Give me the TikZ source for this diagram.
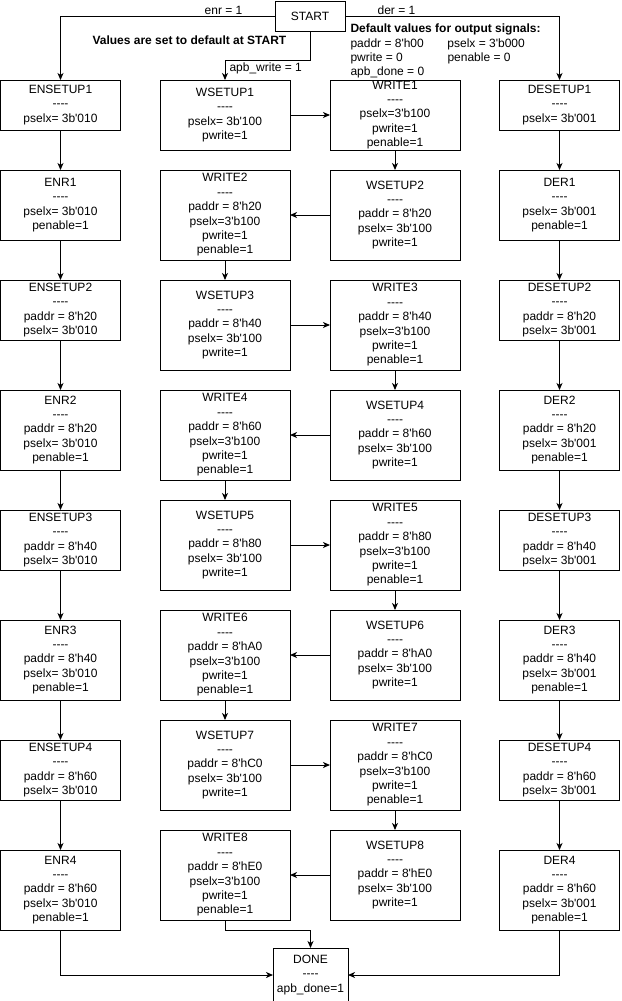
\documentclass[tikz,border=0pt]{standalone}
\usepackage{fontspec}
\setmainfont{Liberation Sans}[Ligatures=TeXOff]
\usepackage{tikz}
\usetikzlibrary{positioning, arrows.meta, calc}

\begin{document}
\begin{tikzpicture}[x=1pt, y=-1pt, line width=1pt,
    every node/.style={font=\fontsize{12}{14.4}\selectfont, inner sep=0pt},
    state/.style={draw, outer sep=0pt, align=center, minimum width=120pt},
    wstate/.style={state, minimum width=130pt},
    flow/.style={-{Stealth[length=7pt, width=6pt, inset=2pt]}},
    node distance=40pt]
    \useasboundingbox (0,0) rectangle (621,1001);

    \node[draw, outer sep=0pt, minimum width=70pt, minimum height=30pt] (start) at (310,16) {START};
    \node[anchor=west, font=\fontsize{12}{14.4}\selectfont\bfseries] (resetnote) at (92,40) {Values are set to default at START};
    \node[anchor=north west, align=left] (defaults) at (350,23.5)
      {\textbf{Default values for output signals:}\\\makebox[97pt][l]{paddr = 8'h00}pselx = 3'b000\\\makebox[97pt][l]{pwrite = 0}penable = 0\\apb\_done = 0};

    \node[state, minimum height=50pt, anchor=north west] (ensetup1) at (0.5,80) {ENSETUP1\\----\\pselx= 3b'010};
    \node[state, minimum height=70pt, below=of ensetup1] (enr1) {ENR1\\----\\pselx= 3b'010\\penable=1};
    \node[state, minimum height=60pt, below=of enr1] (ensetup2) {ENSETUP2\\----\\paddr = 8'h20\\pselx= 3b'010};
    \node[state, minimum height=80pt, below=50pt of ensetup2] (enr2) {ENR2\\----\\paddr = 8'h20\\pselx= 3b'010\\penable=1};
    \node[state, minimum height=60pt, below=of enr2] (ensetup3) {ENSETUP3\\----\\paddr = 8'h40\\pselx= 3b'010};
    \node[state, minimum height=80pt, below=50pt of ensetup3] (enr3) {ENR3\\----\\paddr = 8'h40\\pselx= 3b'010\\penable=1};
    \node[state, minimum height=60pt, below=of enr3] (ensetup4) {ENSETUP4\\----\\paddr = 8'h60\\pselx= 3b'010};
    \node[state, minimum height=80pt, below=50pt of ensetup4] (enr4) {ENR4\\----\\paddr = 8'h60\\pselx= 3b'010\\penable=1};

    \node[state, minimum height=50pt, right=379pt of ensetup1] (desetup1) {DESETUP1\\----\\pselx= 3b'001};
    \node[state, minimum height=70pt, below=of desetup1] (der1) {DER1\\----\\pselx= 3b'001\\penable=1};
    \node[state, minimum height=60pt, below=of der1] (desetup2) {DESETUP2\\----\\paddr = 8'h20\\pselx= 3b'001};
    \node[state, minimum height=80pt, below=50pt of desetup2] (der2) {DER2\\----\\paddr = 8'h20\\pselx= 3b'001\\penable=1};
    \node[state, minimum height=60pt, below=of der2] (desetup3) {DESETUP3\\----\\paddr = 8'h40\\pselx= 3b'001};
    \node[state, minimum height=80pt, below=50pt of desetup3] (der3) {DER3\\----\\paddr = 8'h40\\pselx= 3b'001\\penable=1};
    \node[state, minimum height=60pt, below=of der3] (desetup4) {DESETUP4\\----\\paddr = 8'h60\\pselx= 3b'001};
    \node[state, minimum height=80pt, below=50pt of desetup4] (der4) {DER4\\----\\paddr = 8'h60\\pselx= 3b'001\\penable=1};

    \node[wstate, minimum height=70pt, anchor=north west] (wsetup1) at (160,80) {WSETUP1\\----\\pselx= 3b'100\\pwrite=1};
    \node[wstate, minimum height=70pt, right=of wsetup1] (write1) {WRITE1\\----\\pselx=3'b100\\pwrite=1\\penable=1};
    \node[wstate, minimum height=90pt, below=20pt of wsetup1] (write2) {WRITE2\\----\\paddr = 8'h20\\pselx=3'b100\\pwrite=1\\penable=1};
    \node[wstate, minimum height=90pt, below=20pt of write1] (wsetup2) {WSETUP2\\----\\paddr = 8'h20\\pselx= 3b'100\\pwrite=1};
    \node[wstate, minimum height=90pt, below=20pt of write2] (wsetup3) {WSETUP3\\----\\paddr = 8'h40\\pselx= 3b'100\\pwrite=1};
    \node[wstate, minimum height=90pt, below=20pt of wsetup2] (write3) {WRITE3\\----\\paddr = 8'h40\\pselx=3'b100\\pwrite=1\\penable=1};
    \node[wstate, minimum height=90pt, below=20pt of wsetup3] (write4) {WRITE4\\----\\paddr = 8'h60\\pselx=3'b100\\pwrite=1\\penable=1};
    \node[wstate, minimum height=90pt, below=20pt of write3] (wsetup4) {WSETUP4\\----\\paddr = 8'h60\\pselx= 3b'100\\pwrite=1};
    \node[wstate, minimum height=90pt, below=20pt of write4] (wsetup5) {WSETUP5\\----\\paddr = 8'h80\\pselx= 3b'100\\pwrite=1};
    \node[wstate, minimum height=90pt, below=20pt of wsetup4] (write5) {WRITE5\\----\\paddr = 8'h80\\pselx=3'b100\\pwrite=1\\penable=1};
    \node[wstate, minimum height=90pt, below=20pt of wsetup5] (write6) {WRITE6\\----\\paddr = 8'hA0\\pselx=3'b100\\pwrite=1\\penable=1};
    \node[wstate, minimum height=90pt, below=20pt of write5] (wsetup6) {WSETUP6\\----\\paddr = 8'hA0\\pselx= 3b'100\\pwrite=1};
    \node[wstate, minimum height=90pt, below=20pt of write6] (wsetup7) {WSETUP7\\----\\paddr = 8'hC0\\pselx= 3b'100\\pwrite=1};
    \node[wstate, minimum height=90pt, below=20pt of wsetup6] (write7) {WRITE7\\----\\paddr = 8'hC0\\pselx=3'b100\\pwrite=1\\penable=1};
    \node[wstate, minimum height=90pt, below=20pt of wsetup7] (write8) {WRITE8\\----\\paddr = 8'hE0\\pselx=3'b100\\pwrite=1\\penable=1};
    \node[wstate, minimum height=90pt, below=20pt of write7] (wsetup8) {WSETUP8\\----\\paddr = 8'hE0\\pselx= 3b'100\\pwrite=1};

    \node[draw, outer sep=0pt, align=center, minimum width=75pt, minimum height=54pt] (done) at (310.5,975) {DONE\\----\\apb\_done=1};

    \coordinate (wbend) at ([yshift=20pt]wsetup1.north);
    \coordinate (wdone) at ([yshift=-10pt]write8.south);

    \draw[flow] (start.west) -| node[above, pos=0.12, inner sep=1pt] (enrlbl) {enr = 1} (ensetup1.north);
    \draw[flow] (start.east) -| node[above, pos=0.12, inner sep=1pt] (derlbl) {der = 1} (desetup1.north);
    \draw[flow] (start.south) |- (wbend) -- node[right, pos=0.4, inner sep=4pt] (wrlbl) {apb\_write = 1} (wsetup1.north);

    \draw[flow] (ensetup1) -- (enr1);
    \draw[flow] (enr1) -- (ensetup2);
    \draw[flow] (ensetup2) -- (enr2);
    \draw[flow] (enr2) -- (ensetup3);
    \draw[flow] (ensetup3) -- (enr3);
    \draw[flow] (enr3) -- (ensetup4);
    \draw[flow] (ensetup4) -- (enr4);

    \draw[flow] (desetup1) -- (der1);
    \draw[flow] (der1) -- (desetup2);
    \draw[flow] (desetup2) -- (der2);
    \draw[flow] (der2) -- (desetup3);
    \draw[flow] (desetup3) -- (der3);
    \draw[flow] (der3) -- (desetup4);
    \draw[flow] (desetup4) -- (der4);

    \draw[flow] (wsetup1) -- (write1);
    \draw[flow] (write1) -- (wsetup2);
    \draw[flow] (wsetup2) -- (write2);
    \draw[flow] (write2) -- (wsetup3);
    \draw[flow] (wsetup3) -- (write3);
    \draw[flow] (write3) -- (wsetup4);
    \draw[flow] (wsetup4) -- (write4);
    \draw[flow] (write4) -- (wsetup5);
    \draw[flow] (wsetup5) -- (write5);
    \draw[flow] (write5) -- (wsetup6);
    \draw[flow] (wsetup6) -- (write6);
    \draw[flow] (write6) -- (wsetup7);
    \draw[flow] (wsetup7) -- (write7);
    \draw[flow] (write7) -- (wsetup8);
    \draw[flow] (wsetup8) -- (write8);

    \draw[flow] (write8.south) -- (wdone) -| (done.north);
    \draw[flow] (enr4.south) |- (done.west);
    \draw[flow] (der4.south) |- (done.east);
\end{tikzpicture}
\end{document}
